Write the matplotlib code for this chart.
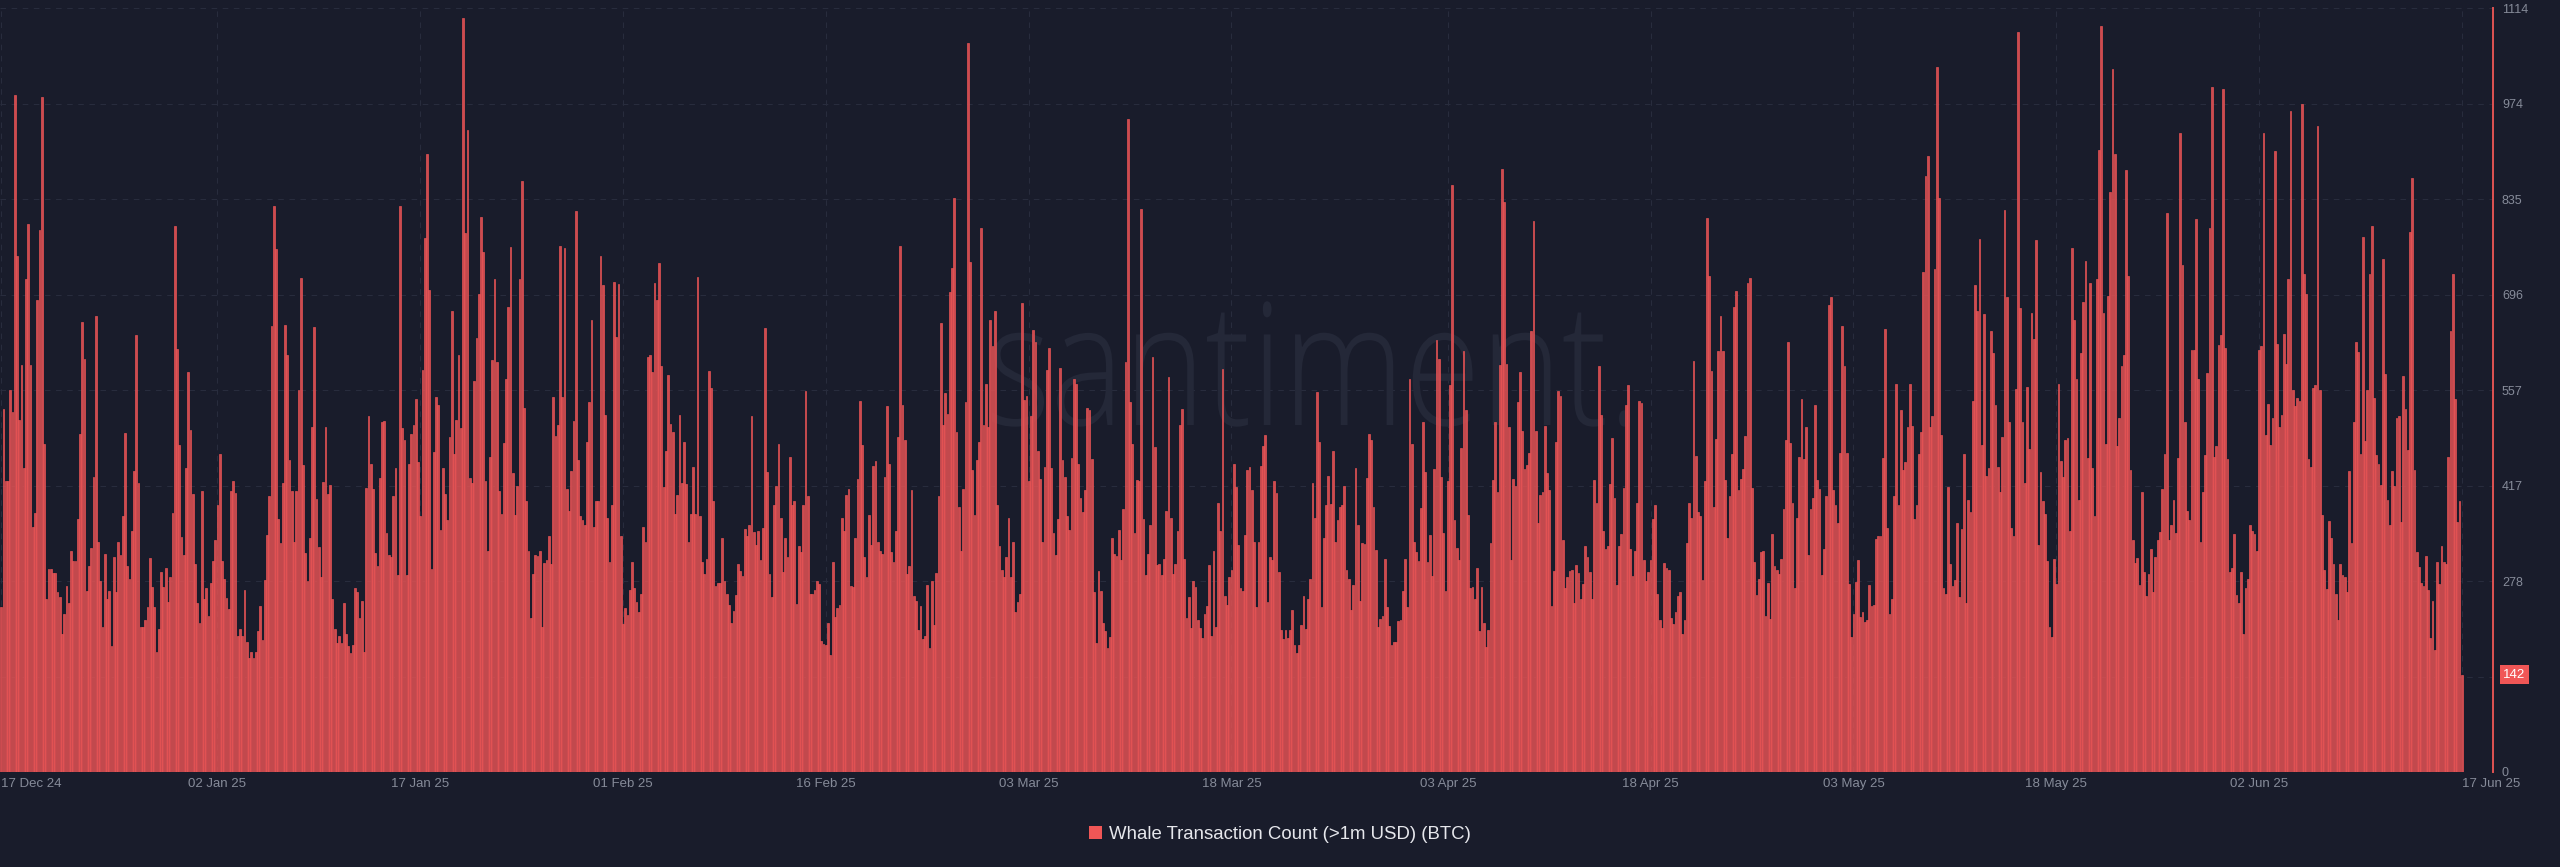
import pandas as pd
import matplotlib
matplotlib.use("Agg")
import matplotlib.pyplot as plt
from matplotlib.patches import Patch, PathPatch
from matplotlib.textpath import TextPath
from matplotlib.font_manager import FontProperties
from matplotlib.transforms import Affine2D, IdentityTransform, blended_transform_factory

# whale transaction count (>1m USD), 4h bars
dec_jan = [
    240, 530, 425, 425, 558, 525, 988, 753, 513, 594, 443, 719, 800, 594, 357, 378, 689, 791, 985, 479,
    252, 296, 296, 291, 291, 262, 256, 202, 230, 272, 246, 323, 308, 308, 369, 493, 657, 602, 264, 300,
    327, 431, 665, 336, 279, 212, 318, 252, 264, 184, 314, 262, 335, 316, 374, 495, 300, 282, 351, 439,
    638, 421, 212, 212, 222, 240, 312, 270, 240, 175, 209, 292, 270, 298, 248, 284, 378, 797, 617, 477,
    343, 316, 443, 584, 499, 405, 303, 246, 217, 410, 252, 268, 228, 276, 308, 338, 389, 464, 308, 282,
    254, 238, 410, 425, 407, 198, 209, 198, 266, 190, 166, 175, 166, 175, 206, 242, 192, 280, 346, 403,
    650, 826, 763, 369, 334, 421, 652, 608, 455, 410, 335, 410, 558, 721, 448, 319, 279, 341, 503, 649,
    399, 328, 284, 423, 504, 405, 419, 252, 209, 188, 198, 188, 246, 201, 184, 174, 185, 268, 262, 224,
    250, 175, 415, 520, 450, 413, 320, 300, 429, 510, 512, 349, 316, 314, 403, 443, 287, 826, 502, 485,
    287, 450, 493, 507, 544, 453, 373, 586, 779, 902, 703, 296, 467, 547, 536, 353, 443, 405, 367, 489,
    673, 464, 513, 609, 502, 1100, 787, 936, 429, 421, 570, 633, 697, 810, 759, 425, 322, 459, 601, 719,
    598, 410, 377, 480, 574,
]
late_jan = [
    679, 766, 436, 375, 418, 719, 862, 531, 396, 323, 224, 289, 317, 315, 323, 212, 305, 310, 344, 304,
    547, 490, 506, 767, 547, 764, 413, 381, 439, 512, 819, 455, 373, 367, 360, 482, 540, 660, 357, 395,
    395, 753, 710, 521, 371, 307, 390, 715, 634, 712, 345, 216, 239, 229, 266, 306, 269, 248, 233, 260,
    358, 336, 606, 608, 583, 713, 688, 743, 592, 416, 468, 579, 508, 496, 376, 404, 521, 422, 482, 420,
    336, 376, 445, 376, 722, 373, 306, 289, 311,
]
feb_a = [
    585, 560, 395, 271, 276, 276, 342, 279, 260, 244, 217, 235, 258, 304, 293, 286, 355, 344, 360, 519,
    350, 331, 351, 309, 356, 648, 438, 289, 255, 389, 418, 479, 371, 292, 342, 313, 460, 389, 396, 245,
    329, 321, 389, 556, 403, 260, 260, 266, 279, 275, 191, 187, 186, 218, 171, 306, 226, 239, 244, 371,
    351, 404, 413, 271, 270, 342, 427, 541, 477, 313, 284, 375, 331, 447, 454, 336, 322, 318, 430, 534,
    450, 321, 306, 352, 489, 767, 536, 485,
]
feb_b = [
    289, 300, 411, 257, 250, 207, 242, 194, 199, 273, 181, 278, 215, 291, 402, 655, 506, 553, 522, 700,
    735, 837, 496, 386, 322, 413, 540, 1063, 744, 441, 375, 455, 482, 793, 506, 566, 503, 659, 622, 673,
    389, 329, 295, 284, 313, 371, 284, 336, 233, 248, 260, 685, 543, 549, 424, 519, 645, 628, 468, 428,
    336, 445, 586, 619, 443, 349, 317, 369, 590, 455, 431, 373, 353, 458, 574, 566, 449, 400, 379, 411,
    531, 528, 457, 262, 188, 293, 264, 217, 205,
]
mar_a = [
    181, 197, 342, 318, 315, 353, 310, 384, 598, 953, 540, 479, 349, 426, 424, 822, 369, 287, 318, 360,
    606, 474, 302, 304, 287, 311, 381, 576, 371, 289, 304, 351, 506, 529, 311, 224, 255, 210, 279, 270,
    222, 210, 195, 231, 242, 302, 199, 323, 212, 393, 351, 588, 257, 244, 284, 295, 449, 416, 331, 268,
    264, 346, 441, 445, 411, 335, 241, 336, 447, 476, 492, 248, 313, 309, 424, 407, 292, 207, 194, 207,
    195, 207, 236, 186, 173, 186, 215, 257,
]
mar_b = [
    208, 252, 281, 421, 371, 554, 482, 241, 341, 389, 432, 391, 469, 336, 367, 386, 389, 418, 295, 281,
    237, 273, 443, 360, 249, 334, 333, 429, 493, 485, 386, 324, 212, 223, 228, 311, 240, 213, 186, 190,
    190, 220, 222, 264, 311, 241, 574, 478, 336, 321, 308, 385, 511, 438, 306, 346, 286, 442, 630, 603,
    431, 349, 264, 424, 564, 857, 367, 327, 310, 472, 614, 528, 375, 268, 270, 253, 298, 205, 270, 217,
    183, 207, 334, 426, 511, 408, 594, 880,
]
apr_a = [
    831, 595, 503, 309, 427, 418, 540, 583, 498, 442, 448, 466, 643, 804, 498, 364, 404, 408, 505, 436,
    412, 242, 293, 482, 556, 549, 339, 269, 284, 293, 294, 246, 302, 291, 253, 274, 329, 313, 292, 253,
    426, 393, 593, 521, 351, 326, 329, 420, 487, 400, 273, 329, 347, 414, 536, 564, 326, 286, 323, 393,
    541, 538, 310, 279, 292, 309, 369, 389, 260, 222, 210, 305, 298, 294, 224, 216, 234, 257, 262, 202,
    222, 334, 393, 371, 600, 461, 380, 373, 280,
]
apr_b = [
    424, 809, 724, 585, 387, 486, 614, 665, 614, 426, 342, 402, 464, 678, 702, 411, 428, 442, 490, 713,
    721, 415, 306, 258, 282, 321, 323, 228, 276, 223, 347, 300, 294, 289, 311, 384, 485, 628, 480, 393,
    269, 371, 460, 544, 456, 503, 316, 384, 400, 535, 426, 413, 287, 325, 403, 681, 693, 411, 389, 363,
    465, 651, 593, 465, 274, 197, 230, 277, 309, 226, 234, 219, 222, 273, 242, 244, 340, 345, 345, 458,
    647, 356, 231, 252, 402, 566, 389, 528, 440,
]
may_a = [
    453, 503, 566, 505, 369, 389, 464, 496, 730, 869, 899, 503, 519, 734, 1029, 837, 492, 268, 260, 416,
    304, 271, 280, 363, 255, 355, 464, 247, 397, 380, 542, 710, 672, 777, 477, 668, 432, 443, 643, 612,
    536, 445, 409, 489, 820, 693, 511, 356, 344, 559, 1079, 677, 511, 421, 561, 471, 670, 632, 776, 331,
    438, 396, 376, 308, 212, 197, 311, 275, 566, 454, 431, 485, 488, 352, 764, 659, 573, 397, 611, 686,
    745, 458, 714, 444, 373, 720, 908, 1089,
]
may_b = [
    669, 478, 694, 846, 1026, 902, 475, 516, 593, 609, 879, 724, 440, 338, 305, 312, 273, 408, 292, 257,
    289, 326, 263, 313, 339, 350, 413, 464, 816, 339, 360, 397, 349, 458, 933, 740, 510, 381, 367, 616,
    616, 807, 573, 336, 408, 463, 582, 794, 1000, 459, 476, 623, 638, 996, 618, 456, 292, 297, 347, 258,
    246, 292, 202, 268, 281, 360, 352, 347, 323, 615, 622, 933, 492, 537, 477, 517, 906, 625, 503, 521,
    639, 595, 720, 965, 557, 534, 545, 542, 975,
]
june = [
    726, 697, 456, 445, 560, 564, 942, 558, 375, 294, 267, 366, 342, 304, 259, 222, 304, 288, 284, 262,
    439, 334, 510, 627, 613, 464, 780, 483, 557, 727, 796, 545, 462, 449, 419, 749, 581, 397, 361, 439,
    417, 516, 520, 365, 578, 529, 470, 788, 866, 441, 321, 299, 276, 272, 315, 266, 196, 250, 178, 306,
    274, 329, 306, 304, 459, 644, 726, 544, 365, 396, 142,
]

tick_dates = ["2024-12-17", "2025-01-02", "2025-01-17", "2025-02-01", "2025-02-16", "2025-03-03",
              "2025-03-18", "2025-04-03", "2025-04-18", "2025-05-03", "2025-05-18", "2025-06-02",
              "2025-06-17"]
tick_labels = ["17 Dec 24", "02 Jan 25", "17 Jan 25", "01 Feb 25", "16 Feb 25", "03 Mar 25",
               "18 Mar 25", "03 Apr 25", "18 Apr 25", "03 May 25", "18 May 25", "02 Jun 25",
               "17 Jun 25"]
y_max = 1114
y_labels = ["0", "139", "278", "417", "557", "696", "835", "974", "1114"]
last_value = 142

BG = "#191c2b"
BAR = "#cd4b50"
EDGE = "#f25757"
TXT = "#868b99"
GRID = "#282c3d"

counts = (dec_jan + late_jan + feb_a + feb_b + mar_a + mar_b + apr_a + apr_b
          + may_a + may_b + june)
times = pd.date_range("2024-12-17 00:00", periods=len(counts), freq="4h")

fig = plt.figure(figsize=(25.6, 8.67), dpi=100, facecolor=BG)
ax = fig.add_axes([0.0, 0.1096, 0.9738, 0.8806], facecolor=BG)

ax.bar(times, counts, width=0.78 / 6, color=BAR, edgecolor=EDGE, linewidth=0.45, zorder=2)

ax.set_xlim(times[0] - pd.Timedelta(hours=2), times[0] + pd.Timedelta(days=184.3))
ax.set_ylim(0, y_max)

ax.set_xticks(pd.to_datetime(tick_dates))
ax.set_xticklabels(tick_labels)
xl = ax.get_xticklabels()
xl[0].set_horizontalalignment("left")
xl[-1].set_horizontalalignment("left")

ax.yaxis.tick_right()
ax.set_yticks([y_max * k / 8 for k in range(9)])
ax.set_yticklabels(y_labels)
yl = ax.get_yticklabels()
yl[1].set_visible(False)  # hidden under the last-value tag
for t in yl:
    t.set_horizontalalignment("left")

ax.tick_params(axis="x", length=0, pad=4, colors=TXT, labelsize=9.5)
ax.tick_params(axis="y", length=0, pad=6.5, colors=TXT, labelsize=9)
for t in ax.get_xticklabels() + ax.get_yticklabels():
    t.set_fontfamily("Liberation Sans")

ax.grid(True, color=GRID, linestyle=(0, (5, 5)), linewidth=0.8)
ax.set_axisbelow(True)

for s in ["top", "left", "bottom"]:
    ax.spines[s].set_visible(False)
ax.spines["right"].set_color("#e05353")
ax.spines["right"].set_linewidth(1.4)

# last value tag on the axis
tr = blended_transform_factory(ax.transAxes, ax.transData)
ax.text(1.0042, last_value, str(last_value), transform=tr, ha="left", va="center",
        color="white", fontsize=9.5, family="Liberation Sans", zorder=5, clip_on=False,
        bbox=dict(boxstyle="square,pad=0.25", fc="#f05656", ec="none"))

# watermark
fp = FontProperties(family="Open Sans", weight="light")
wm = TextPath((0, 0), "santiment.", size=100, prop=fp)
s_h = TextPath((0, 0), "s", size=100, prop=fp).get_extents().height
ext = wm.get_extents()
wm_tr = Affine2D().translate(-ext.x0, 0).scale(638 / ext.width, 94 / s_h).translate(992, 867 - 425)
ax.add_artist(PathPatch(wm_tr.transform_path(wm), fc="#242838", ec="none",
                        transform=IdentityTransform(), zorder=1))

leg = fig.legend(handles=[Patch(facecolor="#f05656", edgecolor="none")],
                 labels=["Whale Transaction Count (>1m USD) (BTC)"],
                 loc="center", bbox_to_anchor=(0.5, 0.038), frameon=False,
                 handlelength=0.7, handleheight=0.7, handletextpad=0.4,
                 prop=FontProperties(family="Liberation Sans", size=13.4))
for t in leg.get_texts():
    t.set_color("#e6e7ec")

fig.savefig("out.png", dpi=100, facecolor=BG)
